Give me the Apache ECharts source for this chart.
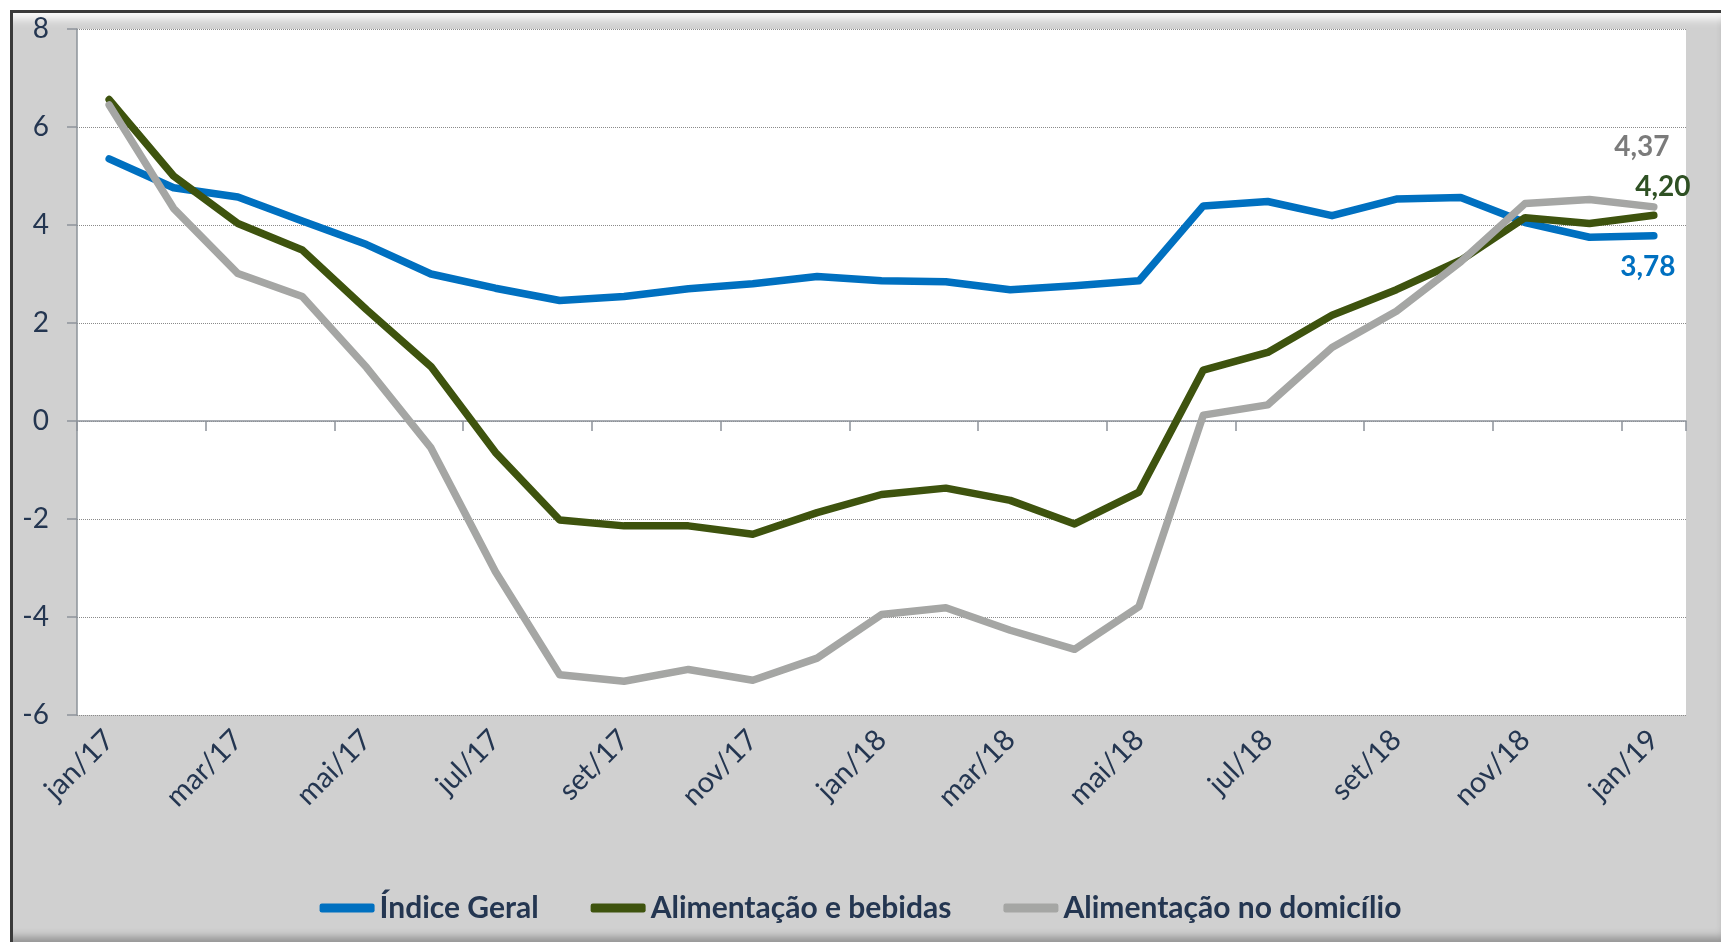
<!DOCTYPE html>
<html>
<head>
<meta charset="utf-8">
<script src="https://cdn.jsdelivr.net/npm/echarts@6/dist/echarts.min.js"></script>
<style>
  html, body { margin: 0; padding: 0; background: #ffffff; }
  #frame {
    position: absolute; left: 10px; top: 10px; width: 1709px; height: 930px;
    background: #d0d0d0;
    border-left: 3px solid #3a3a3a; border-top: 3px solid #3a3a3a;
    box-shadow: inset 0 14px 10px -8px rgba(255,255,255,0.95),
                inset -3px -12px 8px -6px rgba(0,0,0,0.3);
  }
  #chart { position: absolute; left: 0; top: 0; width: 1721px; height: 942px; }
</style>
</head>
<body>
<div id="frame"></div>
<div id="chart"></div>
<script>
const categories = ['jan/17','fev/17','mar/17','abr/17','mai/17','jun/17','jul/17','ago/17','set/17','out/17','nov/17','dez/17',
  'jan/18','fev/18','mar/18','abr/18','mai/18','jun/18','jul/18','ago/18','set/18','out/18','nov/18','dez/18','jan/19'];

const indiceGeral = [5.35, 4.76, 4.57, 4.08, 3.60, 3.00, 2.71, 2.46, 2.54, 2.70, 2.80, 2.95,
  2.86, 2.84, 2.68, 2.76, 2.86, 4.39, 4.48, 4.19, 4.53, 4.56, 4.05, 3.75, 3.78];

const alimentacaoBebidas = [6.56, 5.00, 4.03, 3.49, 2.27, 1.11, -0.64, -2.02, -2.14, -2.14, -2.31, -1.87,
  -1.50, -1.37, -1.62, -2.10, -1.45, 1.04, 1.40, 2.16, 2.68, 3.28, 4.15, 4.03, 4.20];

const alimentacaoDomicilio = [6.45, 4.34, 3.01, 2.54, 1.09, -0.55, -3.07, -5.18, -5.31, -5.07, -5.29, -4.84,
  -3.95, -3.81, -4.27, -4.66, -3.79, 0.12, 0.33, 1.50, 2.24, 3.25, 4.44, 4.52, 4.37];

const seriesNames = ['Índice Geral', 'Alimentação e bebidas', 'Alimentação no domicílio'];
const yTicks = { min: -6, max: 8, interval: 2 };

const FONT = 'Lato';
const TEXT = '#243651';

function fmt(v) { return v.toFixed(2).replace('.', ','); }

function endMark(values, color, offset) {
  const last = values.length - 1;
  return {
    symbol: 'circle', symbolSize: 1,
    itemStyle: { color: 'transparent' },
    label: {
      show: true, position: 'inside', offset: offset,
      color: color, fontFamily: FONT, fontWeight: 'bold', fontSize: 28,
      formatter: p => fmt(p.value)
    },
    data: [{ coord: [categories[last], values[last]], value: values[last] }]
  };
}

function lineSeries(name, values, color, labelColor, offset) {
  return {
    name: name, type: 'line', xAxisIndex: 0, yAxisIndex: 0,
    data: values, symbol: 'none', smooth: false,
    lineStyle: { width: 7.5, color: color, cap: 'round', join: 'round' },
    itemStyle: { color: color },
    markPoint: endMark(values, labelColor, offset)
  };
}

const chart = echarts.init(document.getElementById('chart'), null, { renderer: 'canvas' });
chart.setOption({
  backgroundColor: 'transparent',
  animation: false,
  grid: {
    left: 77, top: 29, right: 35, bottom: 227,
    show: true, backgroundColor: '#ffffff', borderWidth: 0
  },
  legend: {
    data: seriesNames.map(n => ({ name: n, icon: 'roundRect' })),
    left: 'center', top: 886,
    itemWidth: 55, itemHeight: 9, itemGap: 52,
    textStyle: { fontFamily: FONT, fontWeight: 'bold', fontSize: 30, color: TEXT, lineHeight: 34 }
  },
  xAxis: [
    {
      type: 'category', data: categories, position: 'bottom', boundaryGap: true,
      axisLine: { show: false, onZero: false },
      axisTick: { show: false },
      splitLine: { show: false },
      axisLabel: {
        interval: 1, rotate: 45, margin: 20,
        fontFamily: FONT, fontSize: 29, color: TEXT
      }
    },
    {
      type: 'category', data: categories, position: 'top', boundaryGap: true,
      axisLine: { show: true, onZero: true, lineStyle: { color: '#8d939a', width: 1.5 } },
      axisTick: { show: true, inside: true, interval: 1, length: 10, lineStyle: { color: '#8d939a', width: 1.5 } },
      axisLabel: { show: false },
      splitLine: { show: false }
    }
  ],
  yAxis: {
    type: 'value', min: yTicks.min, max: yTicks.max, interval: yTicks.interval,
    axisLine: { show: true, lineStyle: { color: '#8d939a', width: 1.5 } },
    axisTick: { show: true, length: 10, lineStyle: { color: '#8d939a', width: 1.5 } },
    splitLine: { show: true, lineStyle: { color: '#8a8a8a', width: 1, type: 'dotted' } },
    axisLabel: { margin: 28, fontFamily: FONT, fontSize: 28, color: TEXT }
  },
  series: [
    lineSeries(seriesNames[0], indiceGeral, '#0070c0', '#0070c0', [-6, 31]),
    lineSeries(seriesNames[1], alimentacaoBebidas, '#3e530e', '#2f5124', [9, -28]),
    lineSeries(seriesNames[2], alimentacaoDomicilio, '#a5a6a4', '#7b7b7b', [-12, -60])
  ]
});
</script>
</body>
</html>
